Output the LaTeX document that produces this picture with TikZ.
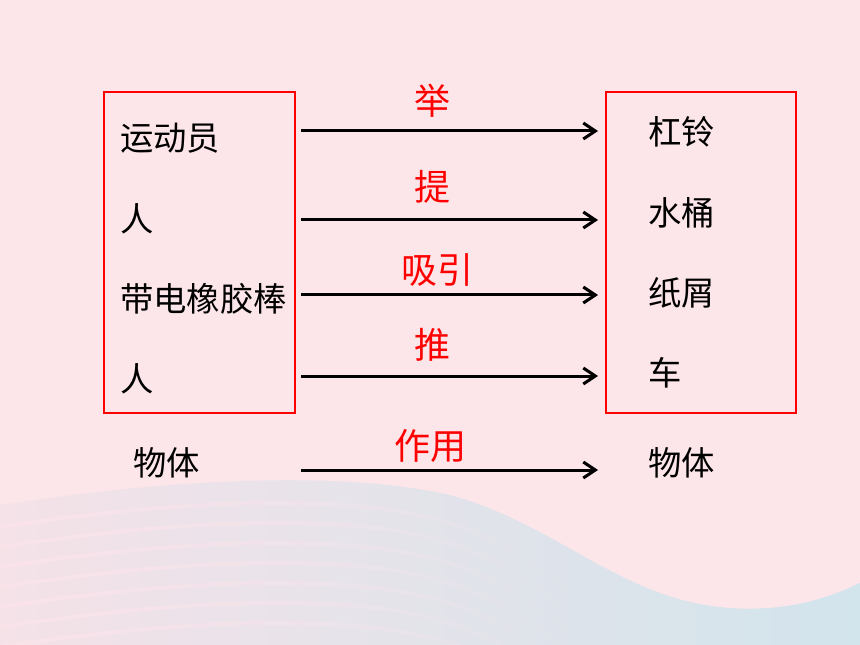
\documentclass[tikz,border=0pt]{standalone}
\usepackage{fontspec}
\newfontfamily\cjk{Noto Sans CJK SC}
\usetikzlibrary{arrows.meta,fadings}
\definecolor{bgpink}{RGB}{253,230,233}
\definecolor{wavel}{RGB}{244,226,232}
\definecolor{wavem}{RGB}{226,224,234}
\definecolor{waver}{RGB}{210,228,236}
\definecolor{stripe}{RGB}{252,228,234}
\definecolor{boxred}{RGB}{255,0,0}
\tikzset{
  blk/.style={font=\cjk\fontsize{25pt}{25pt}\selectfont, text=black, inner sep=0pt, text height=0.88em, text depth=0.12em},
  lbl/.style={font=\cjk\fontsize{27pt}{27pt}\selectfont, text=boxred, inner sep=0pt, text height=0.88em, text depth=0.12em},
  redframe/.style={draw=boxred, line width=1.5pt},
  conn/.style={line width=2.25pt, -{Straight Barb[length=9pt,width=12pt,line width=2.25pt]}},
}
\begin{document}
\begin{tikzpicture}[x=0.75pt,y=-0.75pt]
\useasboundingbox (0,0) rectangle (860,645);
\fill[bgpink] (0,0) rectangle (860,645);
% wave background
\shade[left color=wavel, middle color=wavem, right color=waver]
  (0,505) .. controls (150,482) and (330,468) .. (450,495)
  .. controls (560,525) and (620,600) .. (730,608)
  .. controls (790,612) and (830,597) .. (860,583)
  -- (860,645) -- (0,645) -- cycle;
\begin{scope}
\clip (0,505) .. controls (150,482) and (330,468) .. (450,495)
  .. controls (560,525) and (620,600) .. (730,608) -- (730,645) -- (0,645) -- cycle;
\foreach \d in {22,42,62,82,102,122,142}{
  \draw[stripe, opacity=0.75, line width=3pt, path fading=east]
    (0,505+\d) .. controls (150,482+\d) and (330,468+\d) .. (440,498+\d)
    .. controls (500,515+\d) and (540,545+\d) .. (580,580+\d);
}
\end{scope}
% boxes
\draw[redframe] (104,92) rectangle (295,413);
\draw[redframe] (606,92) rectangle (796,413);
% left texts
\node[blk, anchor=west] (l1) at (120,145) {运动员};
\node[blk, anchor=west] (l2) at (120,226) {人};
\node[blk, anchor=west] (l3) at (120,306) {带电橡胶棒};
\node[blk, anchor=west] (l4) at (120,386) {人};
\node[blk, anchor=west] (l5) at (133,470) {物体};
% right texts
\node[blk, anchor=west] (r1) at (648,139) {杠铃};
\node[blk, anchor=west] (r2) at (648,220) {水桶};
\node[blk, anchor=west] (r3) at (648,300) {纸屑};
\node[blk, anchor=west] (r4) at (648,380) {车};
\node[blk, anchor=west] (r5) at (648,470) {物体};
% arrow endpoints
\coordinate (s1) at (301,131); \coordinate (e1) at (598,131);
\coordinate (s2) at (301,220); \coordinate (e2) at (598,220);
\coordinate (s3) at (301,295); \coordinate (e3) at (598,295);
\coordinate (s4) at (301,376); \coordinate (e4) at (598,376);
\coordinate (s5) at (301,470); \coordinate (e5) at (598,470);
\draw[conn] (s1) -- (e1);
\draw[conn] (s2) -- (e2);
\draw[conn] (s3) -- (e3);
\draw[conn] (s4) -- (e4);
\draw[conn] (s5) -- (e5);
% red labels
\node[lbl] (t1) at (432,109) {举};
\node[lbl] (t2) at (432,195) {提};
\node[lbl] (t3) at (437,278) {吸引};
\node[lbl] (t4) at (432,353) {推};
\node[lbl] (t5) at (430,454) {作用};
\end{tikzpicture}
\end{document}
